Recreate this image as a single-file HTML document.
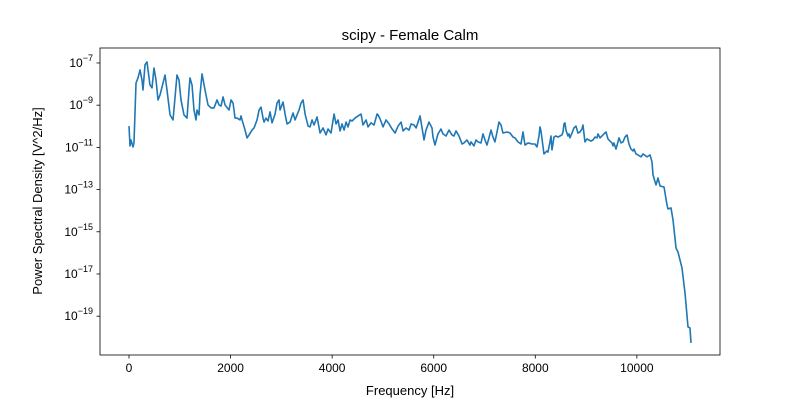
<!DOCTYPE html>
<html><head><meta charset="utf-8"><style>
body{margin:0;background:#fff;}
svg{display:block;font-family:"Liberation Sans","DejaVu Sans",sans-serif;}
</style></head><body>
<svg id="chart" width="800" height="400" xmlns="http://www.w3.org/2000/svg"></svg>
<script>
const freqs=[0,20,39,79,98,138,177,217,256,276,315,354,413,453,492,532,571,610,650,709,748,808,867,945,985,1024,1083,1142,1182,1201,1241,1280,1320,1339,1379,1398,1438,1497,1556,1615,1674,1733,1773,1812,1852,1891,1970,2009,2049,2088,2127,2186,2206,2226,2285,2324,2364,2423,2462,2521,2561,2600,2639,2659,2698,2738,2777,2817,2876,2915,2954,2974,3033,3073,3112,3171,3230,3270,3309,3348,3388,3427,3467,3526,3565,3604,3644,3703,3762,3821,3880,3919,3978,4038,4077,4116,4156,4195,4235,4274,4313,4353,4392,4451,4510,4569,4608,4668,4707,4766,4825,4884,4904,4943,5002,5062,5121,5180,5239,5298,5357,5397,5456,5515,5554,5613,5653,5692,5731,5751,5809,5848,5907,5966,5986,6025,6084,6143,6183,6242,6301,6360,6399,6439,6498,6557,6596,6655,6714,6734,6793,6833,6872,6931,6970,7010,7049,7088,7128,7167,7206,7246,7285,7325,7364,7443,7502,7561,7600,7659,7718,7758,7797,7856,7935,7994,8033,8073,8093,8112,8171,8230,8250,8289,8309,8329,8368,8407,8447,8486,8525,8545,8565,8584,8604,8643,8663,8683,8722,8761,8801,8840,8880,8919,8939,8978,9018,9057,9096,9136,9175,9215,9234,9274,9313,9352,9392,9431,9471,9510,9530,9549,9589,9628,9648,9688,9727,9766,9806,9845,9884,9924,9943,9983,10022,10081,10121,10200,10259,10298,10318,10377,10416,10456,10535,10594,10613,10672,10712,10771,10810,10889,10948,11007,11046,11066];
const log10Psd=[-9.99,-10.93,-10.65,-10.98,-10.79,-7.95,-7.71,-7.33,-7.81,-8.28,-7.09,-6.95,-8.04,-8.18,-7.24,-7.81,-8.75,-8.52,-8.14,-7.57,-8.28,-9.46,-9.70,-7.57,-7.81,-8.75,-9.46,-9.61,-8.28,-7.71,-8.04,-9.23,-9.70,-9.23,-9.46,-8.52,-7.52,-8.28,-8.99,-9.13,-9.13,-8.75,-8.99,-9.04,-8.61,-8.99,-9.23,-8.75,-8.90,-9.61,-9.61,-9.70,-9.51,-9.70,-10.18,-10.55,-10.41,-10.18,-10.08,-9.70,-9.23,-9.09,-9.61,-9.80,-9.61,-9.75,-9.32,-9.84,-9.42,-8.90,-8.75,-9.23,-8.85,-9.42,-9.89,-9.80,-9.37,-9.70,-9.46,-9.23,-8.90,-8.75,-9.42,-9.99,-10.03,-9.70,-9.94,-9.56,-10.32,-10.08,-10.41,-10.13,-10.32,-9.42,-9.89,-9.70,-10.22,-9.89,-10.18,-9.80,-10.03,-9.70,-9.75,-9.61,-9.51,-9.42,-9.94,-9.70,-10.03,-9.84,-9.94,-9.42,-9.46,-9.65,-10.03,-9.70,-9.89,-10.13,-10.32,-9.99,-9.80,-10.22,-10.08,-10.18,-9.89,-9.94,-10.08,-9.80,-9.51,-9.80,-10.65,-10.18,-9.80,-10.08,-10.51,-10.89,-10.36,-10.13,-10.36,-10.46,-10.18,-10.41,-10.46,-10.22,-10.46,-10.84,-10.79,-10.65,-10.89,-10.74,-10.93,-10.65,-10.74,-10.79,-10.36,-10.65,-10.89,-10.55,-10.18,-10.51,-10.74,-10.27,-9.80,-9.94,-10.32,-10.27,-10.32,-10.51,-10.55,-10.74,-10.84,-10.27,-10.89,-10.79,-10.84,-10.84,-10.98,-10.46,-10.03,-10.22,-11.31,-11.17,-11.22,-10.74,-10.46,-11.12,-10.51,-10.46,-10.51,-10.46,-10.41,-10.27,-9.89,-9.84,-10.18,-10.46,-10.36,-10.55,-10.32,-10.08,-9.99,-10.32,-10.27,-10.13,-9.94,-10.74,-10.60,-10.65,-10.70,-10.65,-10.51,-10.55,-10.36,-10.55,-10.46,-10.36,-10.27,-10.60,-10.70,-10.79,-10.93,-10.79,-11.08,-10.74,-10.55,-10.79,-10.74,-10.51,-10.41,-10.84,-11.08,-11.17,-11.08,-11.31,-11.36,-11.45,-11.31,-11.45,-11.36,-11.69,-12.31,-12.78,-12.45,-12.83,-12.88,-13.73,-13.92,-13.87,-14.44,-15.77,-15.96,-16.72,-17.90,-19.51,-19.56,-20.27];
const xTicks=[0,2000,4000,6000,8000,10000];
const yTickExps=[-7,-9,-11,-13,-15,-17,-19];

const NS="http://www.w3.org/2000/svg";
const svg=document.getElementById('chart');
const L=100,R=720,T=48,B=355;
const xMin=-571,xMax=11637,yMin=-20.84,yMax=-6.29;
const X=v=>L+(v-xMin)/(xMax-xMin)*(R-L);
const Y=v=>B-(v-yMin)/(yMax-yMin)*(B-T);
function mk(tag,attrs,parent){const e=document.createElementNS(NS,tag);for(const k in attrs)e.setAttribute(k,attrs[k]);(parent||svg).appendChild(e);return e;}

const title=mk('text',{x:410,y:40,'text-anchor':'middle','font-size':15});
title.textContent='scipy - Female Calm';



let d='';
for(let i=0;i<freqs.length;i++)d+=(i?'L':'M')+X(freqs[i]).toFixed(2)+','+Y(log10Psd[i]).toFixed(2);
const line=mk('path',{d:d,fill:'none',stroke:'#1f77b4','stroke-width':1.6,'stroke-linejoin':'round'});



const frame=mk('rect',{x:L,y:T,width:R-L,height:B-T,fill:'none',stroke:'#000','stroke-width':0.8});



xTicks.forEach(t=>{
  const x=X(t);
  mk('line',{x1:x,x2:x,y1:B,y2:B+3.5,stroke:'#000','stroke-width':0.8});
  const tx=mk('text',{x:x,y:B+17,'text-anchor':'middle','font-size':12});
  tx.textContent=String(t);
  
  
});
yTickExps.forEach(e=>{
  const y=Y(e);
  mk('line',{x1:L-3.5,x2:L,y1:y,y2:y,stroke:'#000','stroke-width':0.8});
  const tx=mk('text',{x:L-7,y:y+4,'text-anchor':'end','font-size':12});
  
  
  const a=mk('tspan',{},tx);a.textContent='10';
  const s=mk('tspan',{dy:-6,'font-size':9},tx);s.textContent='\u2212'+Math.abs(e);
});

const xl=mk('text',{x:410,y:395,'text-anchor':'middle','font-size':13});
xl.textContent='Frequency [Hz]';


const yl=mk('text',{x:0,y:0,'text-anchor':'middle','font-size':13,transform:'translate(42,201) rotate(-90)'});
yl.textContent='Power Spectral Density [V^2/Hz]';


</script>
</body></html>
